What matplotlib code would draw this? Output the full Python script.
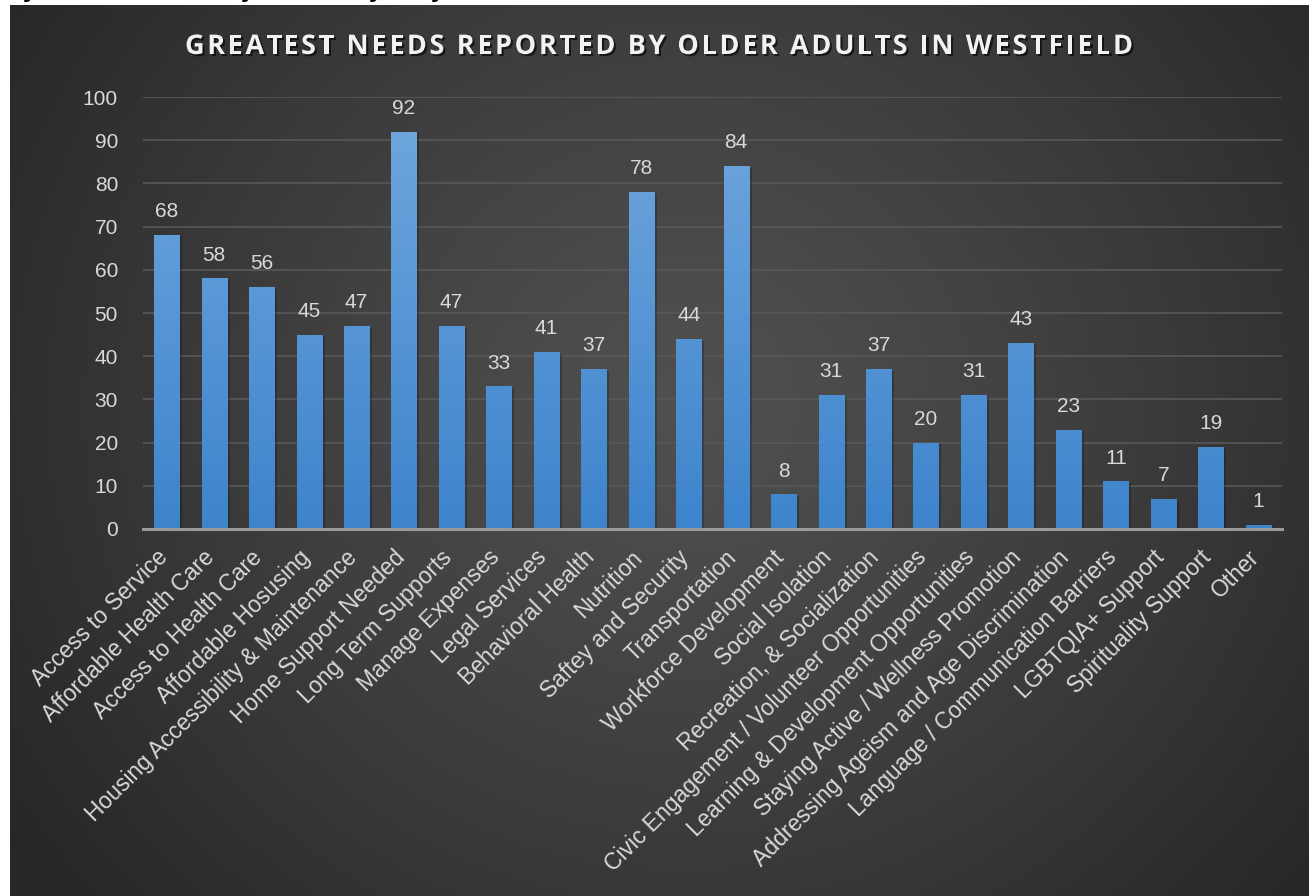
import numpy as np
import matplotlib
matplotlib.use("Agg")
import matplotlib.pyplot as plt
from matplotlib import patheffects
from matplotlib.font_manager import FontProperties
from matplotlib.colors import LinearSegmentedColormap
from matplotlib.transforms import ScaledTranslation

categories = [
    "Access to Service", "Affordable Health Care", "Access to Health Care",
    "Affordable Hosusing", "Housing Accessibility & Maintenance",
    "Home Support Needed", "Long Term Supports", "Manage Expenses",
    "Legal Services", "Behavioral Health", "Nutrition", "Saftey and Security",
    "Transportation", "Workforce Development", "Social Isolation",
    "Recreation, & Socialization", "Civic Engagement / Volunteer Opportunities",
    "Learning & Development Opportunities", "Staying Active / Wellness Promotion",
    "Addressing Ageism and Age Discrimination", "Language / Communication Barriers",
    "LGBTQIA+ Support", "Spirituality Support", "Other",
]
counts = [68, 58, 56, 45, 47, 92, 47, 33, 41, 37, 78, 44, 84, 8, 31, 37,
          20, 31, 43, 23, 11, 7, 19, 1]
y_ticks = [0, 10, 20, 30, 40, 50, 60, 70, 80, 90, 100]
title = "GREATEST NEEDS REPORTED BY OLDER ADULTS IN WESTFIELD"

W, H = 1309, 896
fig = plt.figure(figsize=(W / 100, H / 100), dpi=100, facecolor="white")

# dark radial gradient backdrop (screenshot has white strip at top / left)
bg = fig.add_axes([10 / W, 0, 1 - 10 / W, 1 - 5 / H], zorder=-10)
gx, gy = np.meshgrid(np.linspace(0, 1, 400), np.linspace(0, 1, 300))
d = np.sqrt(((gx - 0.52) / 0.62) ** 2 + ((gy - 0.45) / 0.85) ** 2)
d = np.clip(d, 0, 1)
c_in, c_out = np.array([0x50, 0x50, 0x50]), np.array([0x27, 0x27, 0x27])
img = (c_in + (c_out - c_in) * d[..., None] ** 1.2) / 255
bg.imshow(img, aspect="auto", extent=[0, 1, 0, 1], origin="upper")
bg.axis("off")

# cut-off descenders of the text above the screenshot
for px in [22, 240, 368, 430]:
    fig.text(px / W, 1 + 1.5 / H, "y", fontsize=16, fontweight="bold",
             color="black", va="baseline", zorder=-20)

ax = fig.add_axes([143 / W, 1 - 529 / H, (1282 - 143) / W, (529 - 97) / H])
ax.set_facecolor("none")

x = np.arange(len(categories))
bw = 0.53
# soft shadow
ax.bar(x + 0.06, counts, bw, bottom=-0.4, color="black", alpha=0.22, zorder=1,
       linewidth=0)
bars = ax.bar(x, counts, bw, color="none", linewidth=0, zorder=2)
grad_cmap = LinearSegmentedColormap.from_list("b", ["#3d84cd", "#72a8de"])
grad = np.linspace(0, 1, 256).reshape(-1, 1)
for b in bars:
    im = ax.imshow(grad, cmap=grad_cmap, aspect="auto", origin="lower",
                   extent=[b.get_x(), b.get_x() + b.get_width(), 0, 100],
                   zorder=2)
    im.set_clip_path(b)

txt_color = "#d9d9d9"
font = "Liberation Sans"
for xi, v in zip(x, counts):
    ax.annotate(str(v), (xi, v), xytext=(0, 10), textcoords="offset points",
                ha="center", va="bottom", color=txt_color, fontsize=15,
                family=font)

ax.set_xlim(-0.5, len(categories) - 0.5)
ax.set_ylim(0, 100)
ax.tick_params(axis="y", length=0, pad=18)
ax.tick_params(axis="x", length=0, pad=12)
ax.set_yticks(y_ticks)
ax.set_yticklabels([str(t) for t in y_ticks], color=txt_color, fontsize=15,
                   family=font)
ax.set_xticks(x)
ax.set_xticklabels(categories, rotation=45, ha="right", va="top",
                   rotation_mode="anchor", color=txt_color, fontsize=16.5,
                   family=font)
shift = ScaledTranslation(-11 / 100, 0, fig.dpi_scale_trans)
for lab in ax.get_xticklabels():
    lab.set_transform(lab.get_transform() + shift)
ax.yaxis.grid(True, color="#585858", linewidth=1.2)
ax.set_axisbelow(True)
for s in ["top", "right", "left"]:
    ax.spines[s].set_visible(False)
ax.spines["bottom"].set_color("#9a9a9a")
ax.spines["bottom"].set_linewidth(2.2)
ax.spines["bottom"].set_zorder(3)

# letter-spaced title, drawn glyph by glyph
renderer = fig.canvas.get_renderer()
prop = FontProperties(family="Open Sans", weight="bold", size=19.5)


def tw(s):
    return renderer.get_text_width_height_descent(s, prop, ismath=False)[0]


natural = tw(title)
target = 948
spacing = (target - natural) / (len(title) - 1)
x0 = 659 - target / 2
bar_w = tw("|")
shadow = [patheffects.withSimplePatchShadow(offset=(1.5, -1.5),
                                            shadow_rgbFace="black", alpha=0.6)]
for i, ch in enumerate(title):
    if ch == " ":
        continue
    px = x0 + (tw(title[:i] + "|") - bar_w if i else 0) + i * spacing
    fig.text(px / W, 1 - 54 / H, ch, fontproperties=prop, color="#f2f2f2",
             ha="left", va="baseline", path_effects=shadow)

fig.savefig("out.png", dpi=100, facecolor="white")
